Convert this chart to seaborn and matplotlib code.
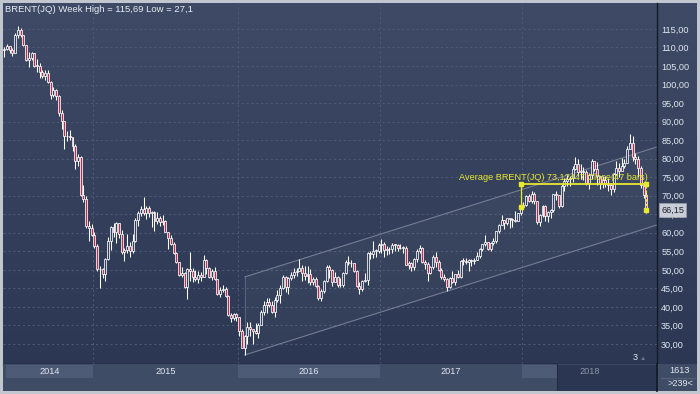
import numpy as np
import pandas as pd
import matplotlib
matplotlib.use("Agg")
import matplotlib.pyplot as plt
import seaborn as sns
from matplotlib.patches import Rectangle, Polygon

# ---------------- data (weekly bars, per calendar year) ----------------
years = ["2014", "2015", "2016", "2017", "2018"]

close_2014 = [109.7, 110.5, 109.4, 108.6, 113.4, 114.8, 113.3, 110.6, 106.7, 107.2, 108.4,
              105.0, 105.0, 103.5, 102.3, 103.2, 100.8, 97.1, 98.4, 97.0, 92.3, 90.2, 86.2,
              86.1, 85.9, 83.4, 79.4, 80.4, 70.2, 69.1, 61.9, 61.4, 59.5]
high_2014 = [110.2, 111.0, 110.5, 109.8, 113.8, 115.69, 115.2, 113.4, 110.6, 108.9, 108.8,
             108.5, 106.9, 105.9, 104.0, 103.8, 103.8, 100.9, 99.3, 98.7, 97.2, 93.2, 90.1,
             87.5, 87.6, 85.9, 83.9, 81.2, 80.6, 72.8, 69.9, 63.1, 62.5]
low_2014 = [107.4, 109.3, 108.5, 107.8, 108.5, 112.5, 112.8, 110.3, 106.3, 104.6, 106.7,
            104.6, 103.3, 101.8, 101.7, 101.3, 100.3, 96.2, 96.7, 95.8, 91.5, 88.1, 82.6,
            84.7, 85.0, 82.1, 77.1, 77.9, 69.8, 68.2, 61.3, 57.9, 59.2]

close_2015 = [56.4, 50.1, 50.2, 48.8, 53.0, 57.8, 61.5, 60.2, 62.6, 59.7, 54.7, 55.3, 56.4,
              55.0, 57.9, 63.5, 65.3, 66.5, 65.4, 66.8, 65.4, 65.6, 63.3, 63.9, 63.0, 63.3,
              60.3, 58.7, 57.1, 54.6, 52.2, 48.6, 49.2, 45.5, 50.1, 49.6, 48.1, 47.5, 48.6,
              48.1, 52.7, 50.5, 48.1, 49.6, 47.4, 43.6, 44.7, 44.9, 43.0, 37.9, 36.9, 38.1, 37.3]
high_2015 = [60.3, 57.0, 51.0, 50.5, 53.1, 59.0, 61.7, 62.6, 62.9, 62.5, 60.8, 56.0, 59.7,
             57.6, 59.6, 64.0, 65.9, 67.1, 69.6, 67.3, 67.1, 65.9, 65.9, 65.7, 64.4, 64.7,
             63.5, 60.0, 59.5, 57.4, 54.8, 52.2, 50.8, 49.5, 50.4, 54.9, 50.5, 50.0, 49.7,
             49.4, 53.9, 52.8, 50.9, 50.1, 50.9, 47.5, 45.4, 45.8, 45.3, 43.3, 38.4, 38.3, 38.3]
low_2015 = [55.8, 49.7, 45.2, 47.8, 47.0, 52.6, 55.4, 58.9, 57.2, 58.5, 54.4, 52.5, 54.6,
            53.6, 54.5, 57.4, 61.7, 64.4, 64.9, 63.7, 64.2, 61.6, 60.6, 62.3, 61.9, 62.0,
            60.1, 55.7, 56.8, 54.3, 51.8, 48.4, 48.2, 45.1, 42.2, 47.0, 46.7, 47.0, 46.5,
            47.0, 48.0, 48.9, 47.8, 47.2, 47.2, 43.3, 42.7, 44.1, 42.8, 37.6, 36.0, 36.4, 36.1]

close_2016 = [33.6, 28.9, 32.2, 34.7, 34.1, 33.4, 33.0, 35.1, 38.7, 40.4, 41.2, 40.4, 38.7,
              41.9, 43.1, 45.1, 48.1, 45.4, 47.8, 48.7, 49.3, 49.6, 50.5, 49.2, 48.4, 49.0,
              46.8, 47.6, 45.7, 42.5, 44.3, 47.0, 50.9, 49.9, 46.8, 48.0, 45.8, 45.9, 49.1,
              52.0, 51.95, 51.8, 49.7, 45.6, 44.75, 46.9, 47.2, 54.5, 54.3, 55.2, 55.2, 56.8]
high_2016 = [37.1, 34.1, 32.4, 35.8, 36.0, 33.5, 35.6, 35.6, 39.1, 41.6, 42.5, 42.5, 41.7,
             42.6, 44.7, 45.9, 48.5, 48.3, 48.2, 49.4, 50.5, 50.4, 52.9, 51.4, 51.0, 51.0,
             50.3, 48.2, 48.0, 45.9, 44.8, 47.3, 51.2, 51.2, 50.3, 49.3, 48.4, 47.8, 49.5,
             52.6, 53.7, 52.7, 51.9, 49.9, 46.6, 47.2, 49.1, 54.9, 55.0, 57.9, 55.7, 57.3]
low_2016 = [32.2, 28.8, 27.1, 30.0, 32.1, 30.0, 32.6, 31.6, 35.2, 37.9, 38.4, 39.9, 38.4,
            37.3, 41.3, 41.0, 44.8, 44.1, 43.6, 47.3, 47.8, 48.4, 49.6, 46.9, 47.2, 46.4,
            45.8, 45.8, 45.5, 41.8, 41.5, 43.8, 46.6, 47.8, 45.7, 46.7, 45.5, 45.5, 45.5,
            48.9, 51.4, 50.9, 49.3, 45.3, 43.6, 44.2, 46.7, 45.8, 52.8, 53.3, 53.6, 54.6]

close_2017 = [57.1, 55.45, 55.5, 55.5, 56.8, 56.7, 55.8, 56.0, 55.9, 51.4, 51.8, 50.8, 52.8,
              55.2, 55.9, 52.0, 51.7, 49.1, 50.8, 53.6, 52.15, 49.95, 48.15, 47.4, 45.5, 47.9,
              46.7, 48.9, 48.1, 52.5, 52.4, 52.1, 52.7, 52.4, 52.75, 53.8, 55.6, 56.9, 57.5,
              55.6, 57.2, 57.75, 60.4, 62.1, 63.5, 62.7, 63.9, 63.7, 63.4, 63.2, 65.25, 66.9]
high_2017 = [58.4, 57.5, 56.4, 56.3, 57.2, 57.1, 57.1, 57.0, 56.5, 56.4, 52.5, 52.2, 53.1,
             55.6, 56.6, 56.1, 52.6, 52.0, 51.0, 54.0, 54.7, 52.6, 50.5, 48.8, 47.7, 48.1,
             49.6, 49.0, 49.9, 52.6, 53.2, 53.1, 52.9, 53.0, 53.1, 54.9, 55.8, 56.9, 59.5,
             57.5, 57.4, 58.5, 60.5, 62.3, 64.7, 63.5, 64.1, 64.0, 64.0, 65.8, 65.4, 67.0]
low_2017 = [54.6, 53.6, 54.1, 54.2, 54.6, 55.0, 55.0, 55.6, 54.5, 51.3, 50.3, 49.7, 50.0,
            52.2, 54.6, 51.8, 50.3, 47.0, 48.8, 50.3, 50.8, 49.6, 47.4, 46.9, 44.4, 45.2,
            46.4, 45.9, 47.7, 47.9, 51.2, 51.5, 49.7, 51.1, 51.5, 52.8, 53.3, 55.2, 56.5,
            55.3, 55.1, 56.8, 57.2, 59.9, 62.0, 61.1, 62.2, 61.4, 61.6, 62.8, 63.3, 64.8]

close_2018 = [67.6, 69.9, 68.6, 70.5, 68.6, 62.8, 64.8, 67.3, 64.4, 65.5, 66.2, 70.45, 70.3,
              67.1, 72.6, 74.1, 74.6, 74.9, 77.1, 78.5, 76.4, 76.8, 76.5, 73.4, 75.55, 79.4,
              77.1, 75.3, 73.1, 74.3, 73.2, 72.8, 71.8, 75.8, 77.4, 76.8, 78.1, 78.8, 82.7,
              84.2, 80.4, 79.8, 77.6, 72.8, 70.2, 66.15]
high_2018 = [68.3, 70.1, 70.4, 71.3, 70.9, 68.4, 65.1, 67.6, 67.4, 66.0, 66.4, 70.6, 71.2,
             70.2, 73.1, 74.8, 75.5, 75.3, 78.0, 80.5, 80.0, 78.6, 77.8, 76.9, 76.0, 79.9,
             79.3, 79.1, 74.6, 75.3, 75.2, 74.9, 73.2, 76.0, 79.4, 78.9, 80.1, 80.0, 83.3,
             86.7, 86.0, 81.5, 80.8, 78.1, 73.8, 71.0]
low_2018 = [66.3, 67.1, 68.2, 68.1, 67.8, 62.5, 61.8, 64.2, 63.3, 62.9, 63.9, 65.7, 68.9,
            66.8, 66.9, 71.3, 72.7, 72.6, 73.6, 76.9, 75.4, 74.6, 74.2, 72.9, 71.9, 74.6,
            76.7, 72.9, 71.8, 72.1, 72.3, 71.2, 70.3, 71.0, 75.6, 75.1, 76.6, 77.6, 78.8,
            83.6, 79.4, 78.5, 75.1, 72.1, 69.5, 65.4]

first_open = 109.2
price_ticks = list(range(30, 116, 5))

avg_bars = 47
avg_value = 73.12447
avg_label = "Average BRENT(JQ) 73,12447 Close(47 bars)"

# trend channel (drawn tool): anchored on the 2016 low bar
channel_lower_start = 27.03
channel_width = 21.05
channel_slope = 0.2325          # price per bar
highlight_start_bar = 202.3     # darker "current" zone in the time band
bar_count_text = ["1613", ">239<"]
marker_text = "3"

# ---------------- assemble ----------------
closes = [close_2014, close_2015, close_2016, close_2017, close_2018]
highs = [high_2014, high_2015, high_2016, high_2017, high_2018]
lows = [low_2014, low_2015, low_2016, low_2017, low_2018]
rows = []
for y, c, h, l in zip(years, closes, highs, lows):
    for cc, hh, ll in zip(c, h, l):
        rows.append((y, cc, hh, ll))
df = pd.DataFrame(rows, columns=["year", "close", "high", "low"])
df["i"] = np.arange(len(df))
df["open"] = df["close"].shift(1).fillna(first_open)
df["high"] = df[["high", "open", "close"]].max(axis=1)
df["low"] = df[["low", "open", "close"]].min(axis=1)
df["down"] = df["close"] < df["open"]

year_len = [len(c) for c in closes]
bounds = np.cumsum(year_len)[:-1] - 0.5
last = len(df) - 1

# ---------------- style ----------------
sns.set_theme(style="dark")
plt.rcParams['font.family'] = ['Liberation Sans', 'DejaVu Sans']

W, H = 700, 394
fig = plt.figure(figsize=(7, 3.94), dpi=100)
fig.patch.set_facecolor('#c2c7cf')

def px_axes(x0, y0, x1, y1, **kw):
    return fig.add_axes([x0 / W, 1 - y1 / H, (x1 - x0) / W, (y1 - y0) / H], **kw)

TXT = '#e0e6ef'
GRID = '#4f5b75'
SEP = '#141a26'
YEL = '#e8e82c'

# background gradient panel
bg = px_axes(3, 3, 697, 391)
grad = np.linspace(0, 1, 256).reshape(-1, 1)
cmap = matplotlib.colors.LinearSegmentedColormap.from_list("g", ['#3f4b66', '#2b3752'])
bg.imshow(grad, aspect='auto', cmap=cmap, extent=[0, 1, 0, 1], origin='upper')
bg.set_axis_off()

# main price axes
ax = px_axes(3, 3, 657, 364)
ax.patch.set_alpha(0)
xlim = (-0.44, 238.9)
ylim = (24.6, 122.0)
ax.set_xlim(*xlim)
ax.set_ylim(*ylim)

for v in price_ticks:
    ax.axhline(v, color=GRID, lw=0.7, ls=(0, (2.2, 2.8)), zorder=1)
for b in bounds:
    ax.axvline(b, color=GRID, lw=0.7, ls=(0, (2.2, 2.8)), zorder=1)

# channel
ci = int(df["low"].idxmin())
cx = np.array([ci, xlim[1]])
lower = channel_lower_start + channel_slope * (cx - ci)
upper = lower + channel_width
ax.add_patch(Polygon([[cx[0], lower[0]], [cx[1], lower[1]], [cx[1], upper[1]], [cx[0], upper[0]]],
                     closed=True, facecolor='white', alpha=0.03, edgecolor='none', zorder=1))
ax.plot(cx, upper, color='#737d92', lw=0.8, zorder=2)
ax.plot(cx, lower, color='#737d92', lw=0.8, zorder=2)
ax.plot([cx[0], cx[0]], [lower[0], upper[0]], color='#56627a', lw=0.8, zorder=2)

# candles
ax.vlines(df["i"], df["low"], df["high"], color='white', lw=0.75, zorder=3)
body_bot = df[["open", "close"]].min(axis=1)
body_h = (df["open"] - df["close"]).abs().clip(lower=0.15)
faces = np.where(df["down"], '#b8304f', '#34405a')
ax.bar(df["i"], body_h, bottom=body_bot, width=0.72, color=faces,
       edgecolor='white', linewidth=0.55, zorder=4)

# average study
i0 = last - (avg_bars - 1)
sns.lineplot(x=[i0, last], y=[avg_value, avg_value], ax=ax, color=YEL, lw=1.3, zorder=6)
ax.plot([i0, i0], [df.loc[i0, "close"], avg_value], color=YEL, lw=0.9, zorder=6)
ax.plot([last, last], [df.loc[last, "close"], avg_value], color=YEL, lw=0.9,
        ls=(0, (2, 1.5)), zorder=6)
ax.plot([i0, i0, last, last], [df.loc[i0, "close"], avg_value, avg_value, df.loc[last, "close"]],
        ls='none', marker='s', ms=3.2, color=YEL, zorder=7)
ax.annotate(avg_label, xy=(last + 0.5, avg_value), xytext=(0, 1.5), textcoords='offset points',
            ha='right', va='bottom', fontsize=6.6, color=YEL, zorder=8)

# axes cosmetics
ax.yaxis.tick_right()
ax.set_yticks(price_ticks)
ax.set_yticklabels([f"{t},00" for t in price_ticks])
ax.tick_params(axis='y', length=0, pad=3, labelsize=6.6, labelcolor=TXT)
ax.set_xticks([])
for s in ['left', 'top']:
    ax.spines[s].set_visible(False)
for s in ['right', 'bottom']:
    ax.spines[s].set_visible(True)
    ax.spines[s].set_color(SEP)
    ax.spines[s].set_linewidth(1.0)
ax.grid(False)

# last price box
last_close = df.loc[last, "close"]
ax.annotate(f"{last_close:.2f}".replace('.', ','), xy=(1.0, last_close),
            xycoords=('axes fraction', 'data'), xytext=(3, 0), textcoords='offset points',
            ha='left', va='center', fontsize=6.6, color='#1d2333', zorder=9,
            bbox=dict(boxstyle='square,pad=0.25', fc='#c9cdd5', ec='#9aa1b0', lw=0.5),
            annotation_clip=False)

# title
hi = df["high"].max()
lo = df["low"].min()
title = f"BRENT(JQ) Week High = {hi:.2f} Low = {lo:g}".replace('.', ',')
fig.text(5 / W, 1 - 10 / H, title, ha='left', va='center', fontsize=6.8, color='#e8ecf2')

# time band
band = px_axes(3, 364, 657, 391)
band.set_xlim(*xlim)
band.set_ylim(27, 0)
band.set_facecolor('#3f4c66')
band.set_xticks([]); band.set_yticks([])
for s in band.spines.values():
    s.set_visible(False)
LIGHT = '#4e5b76'
edges = [xlim[0] + 1.1] + list(bounds) + [xlim[1]]
for k, yr in enumerate(years):
    a, b = edges[k], edges[k + 1]
    if k in (0, 2):
        band.add_patch(Rectangle((a, 1), b - a, 13, fc=LIGHT, ec='none'))
    if k == 4:
        band.add_patch(Rectangle((a, 1), highlight_start_bar - a, 13, fc=LIGHT, ec='none'))
        band.add_patch(Rectangle((highlight_start_bar, 1), b - highlight_start_bar, 26,
                                 fc='#2b3752', ec='none'))
        band.axvline(highlight_start_bar, color='#1f2a40', lw=0.8)
    col = '#8b94a6' if k == 4 else TXT
    band.text((a + b) / 2, 8, yr, ha='center', va='center', fontsize=6.6, color=col)

# bottom-right box
corner = px_axes(657, 364, 697, 391)
corner.set_facecolor('#3f4c66')
corner.set_xticks([]); corner.set_yticks([])
for s in corner.spines.values():
    s.set_visible(False)
corner.spines['left'].set_visible(True)
corner.spines['left'].set_color(SEP)
corner.set_xlim(0, 40); corner.set_ylim(27, 0)
corner.plot([4, 38], [13.5, 13.5], color='#5b6781', lw=0.6)
corner.text(23, 6.5, bar_count_text[0], ha='center', va='center', fontsize=6.6, color=TXT)
corner.text(23, 19.5, bar_count_text[1], ha='center', va='center', fontsize=6.6, color=TXT)

# small marker label near bottom right of chart
fig.text(635 / W, 1 - 358 / H, marker_text, ha='center', va='center', fontsize=6.6, color=TXT)
fig.text(643 / W, 1 - 359 / H, "\u25b2", ha='center', va='center', fontsize=4.5, color='#6d778b')

fig.savefig("out.png", dpi=100, facecolor=fig.get_facecolor())
